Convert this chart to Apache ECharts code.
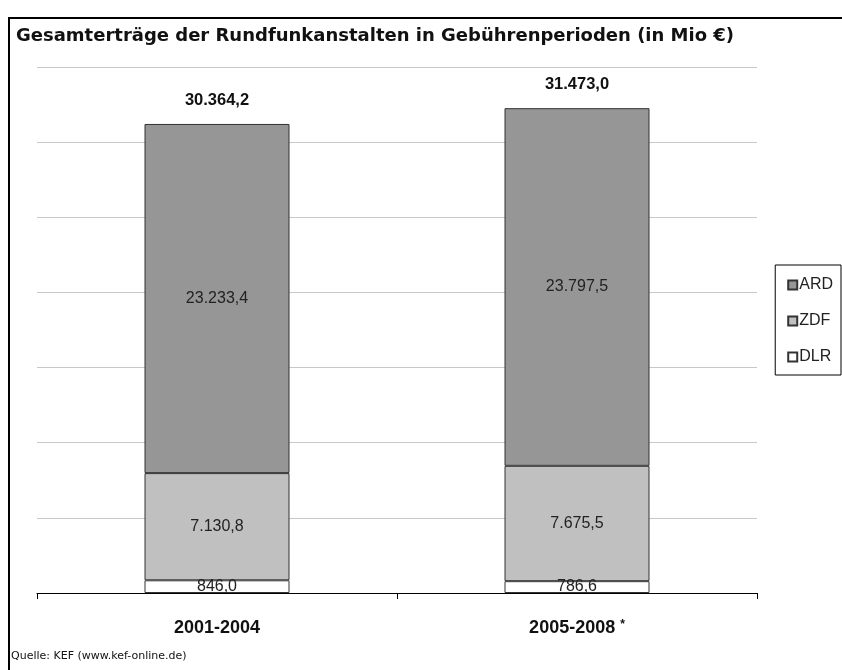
<!DOCTYPE html>
<html><head><meta charset="utf-8">
<script src="https://cdn.jsdelivr.net/npm/echarts@6/dist/echarts.min.js"></script>
<style>html,body{margin:0;padding:0;background:#fff}#c{width:842px;height:670px}</style>
</head><body><div id="c"></div>
<script>
const categories = ['2001-2004', '2005-2008 *'];
const ard = [23233.4, 23797.5];
const zdf = [7130.8, 7675.5];
const dlr = [846.0, 786.6];
const totals = [30364.2, 31473.0];
const seriesNames = ['DLR', 'ZDF', 'ARD'];

function de(v){
  const s = v.toFixed(1).split('.');
  return s[0].replace(/\B(?=(\d{3})+(?!\d))/g, '.') + ',' + s[1];
}
const sans = '"Liberation Sans", Arial, sans-serif';
const chart = echarts.init(document.getElementById('c'));
const inLabel = {show:true, position:'inside', color:'#222', fontFamily:sans, fontSize:16, formatter:p=>de(p.value)};
chart.setOption({
  animation:false,
  title:{text:'Gesamterträge der Rundfunkanstalten in Gebührenperioden (in Mio €)', left:11, top:22,
    textStyle:{fontFamily:'"DejaVu Sans", Verdana, sans-serif', fontSize:18, fontWeight:'bold', color:'#111'}},
  grid:{left:37, right:85, top:67, bottom:77},
  legend:{orient:'vertical', right:1, top:265, data:['ARD','ZDF','DLR'],
    borderColor:'#000', borderWidth:1, padding:[12,8,10,12], itemGap:20, itemWidth:9, itemHeight:9,
    icon:'rect', textStyle:{fontFamily:sans, fontSize:16, lineHeight:16, color:'#222', padding:[0,0,0,-3]}},
  xAxis:{type:'category', data:categories,
    axisLine:{lineStyle:{color:'#000', width:1}},
    axisTick:{show:true, length:6, lineStyle:{color:'#000'}},
    axisLabel:{margin:26, color:'#111', fontFamily:sans, fontSize:18, fontWeight:'bold',
      formatter:v=>v.indexOf('*')>0 ? v.replace(' *','') + ' {s|*}' : v,
      rich:{s:{fontSize:12, color:'#111', verticalAlign:'top', padding:[0,0,6,0]}}}},
  yAxis:{type:'value', min:0, max:35000, interval:5000,
    axisLabel:{show:false}, axisLine:{show:false}, axisTick:{show:false},
    splitLine:{lineStyle:{color:'#c8c8c8', width:1}}},
  series:[
    {name:'DLR', type:'bar', stack:'s', barWidth:145, data:dlr,
      itemStyle:{color:'#ffffff', borderColor:'#333', borderWidth:1}, label:inLabel},
    {name:'ZDF', type:'bar', stack:'s', data:zdf,
      itemStyle:{color:'#c0c0c0', borderColor:'#333', borderWidth:1}, label:inLabel},
    {name:'ARD', type:'bar', stack:'s', data:ard,
      itemStyle:{color:'#969696', borderColor:'#333', borderWidth:1}, label:inLabel},
    {name:'Summe', type:'bar', stack:'s', data:totals.map(()=>0), itemStyle:{color:'transparent'},
      label:{show:true, position:'top', distance:15, color:'#111', fontFamily:sans, fontSize:16.5, fontWeight:'bold',
        formatter:p=>de(totals[p.dataIndex])}}
  ],
  graphic:[
    {type:'rect', shape:{x:9, y:18, width:900, height:700}, style:{fill:'none', stroke:'#000', lineWidth:2}, z:-1},
    {type:'text', left:11, top:651, style:{text:'Quelle: KEF (www.kef-online.de)', fontFamily:'"DejaVu Sans", Verdana, sans-serif', fontSize:11, fill:'#111'}}
  ]
});
</script></body></html>
